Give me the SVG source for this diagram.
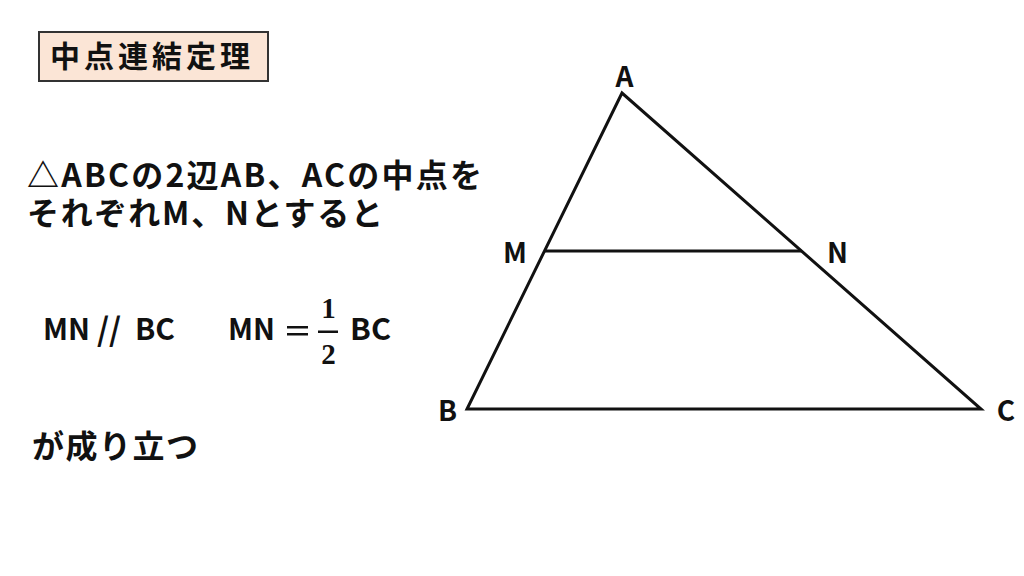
<svg xmlns="http://www.w3.org/2000/svg" width="1024" height="576" viewBox="0 0 1024 576">
<style>
  .jp { font-family: "Noto Sans CJK JP", "Noto Sans", sans-serif; font-weight: bold; fill: #111; }
  .lbl { font-family: "Noto Sans CJK JP", "Noto Sans", sans-serif; font-weight: bold; font-size: 28px; fill: #111; text-anchor: middle; }
  .num { font-family: "Liberation Serif", "DejaVu Serif", serif; font-weight: bold; font-size: 29px; fill: #111; text-anchor: middle; }
  .edge { stroke: #111; stroke-width: 3; fill: none; stroke-linejoin: miter; }
</style>
<rect width="1024" height="576" fill="#ffffff"/>
<g id="title">
  <rect x="39" y="32" width="229" height="49" fill="#fbe5d6" stroke="#333" stroke-width="2"/>
  <text class="jp" x="50" y="67" font-size="30" textLength="200" lengthAdjust="spacing">中点連結定理</text>
</g>
<g id="statement">
  <text class="jp" x="27" y="187" font-size="32" textLength="455" lengthAdjust="spacing">△ABCの2辺AB、ACの中点を</text>
  <text class="jp" x="27" y="225" font-size="32" textLength="356" lengthAdjust="spacing">それぞれM、Nとすると</text>
</g>
<g id="formula1">
  <text class="jp" x="43" y="340" font-size="30" textLength="47" lengthAdjust="spacingAndGlyphs">MN</text>
  <text class="jp" x="97" y="341" font-size="32" font-weight="normal" textLength="24" lengthAdjust="spacingAndGlyphs">//</text>
  <text class="jp" x="135" y="340" font-size="30" textLength="40" lengthAdjust="spacingAndGlyphs">BC</text>
</g>
<g id="formula2">
  <text class="jp" x="228" y="340" font-size="30" textLength="47" lengthAdjust="spacingAndGlyphs">MN</text>
  <rect x="287" y="326" width="21" height="2.5" fill="#111"/>
  <rect x="287" y="333" width="21" height="2.5" fill="#111"/>
  <text class="num" x="328.5" y="318">1</text>
  <rect x="318" y="330.5" width="20" height="2.5" fill="#111"/>
  <text class="num" x="328.5" y="364">2</text>
  <text class="jp" x="350" y="340" font-size="30" textLength="41" lengthAdjust="spacingAndGlyphs">BC</text>
</g>
<g id="conclusion">
  <text class="jp" x="32" y="458" font-size="32" textLength="166" lengthAdjust="spacing">が成り立つ</text>
</g>
<g id="connectors">
  <polygon class="edge" points="622,93 467,409 981,409"/>
  <line class="edge" x1="544.5" y1="251" x2="801.5" y2="251"/>
</g>
<g id="node-A"><text class="lbl" x="624.5" y="87">A</text></g>
<g id="node-M"><text class="lbl" x="515" y="263">M</text></g>
<g id="node-N"><text class="lbl" x="837.5" y="263">N</text></g>
<g id="node-B"><text class="lbl" x="447.5" y="421">B</text></g>
<g id="node-C"><text class="lbl" x="1006" y="421">C</text></g>
</svg>
